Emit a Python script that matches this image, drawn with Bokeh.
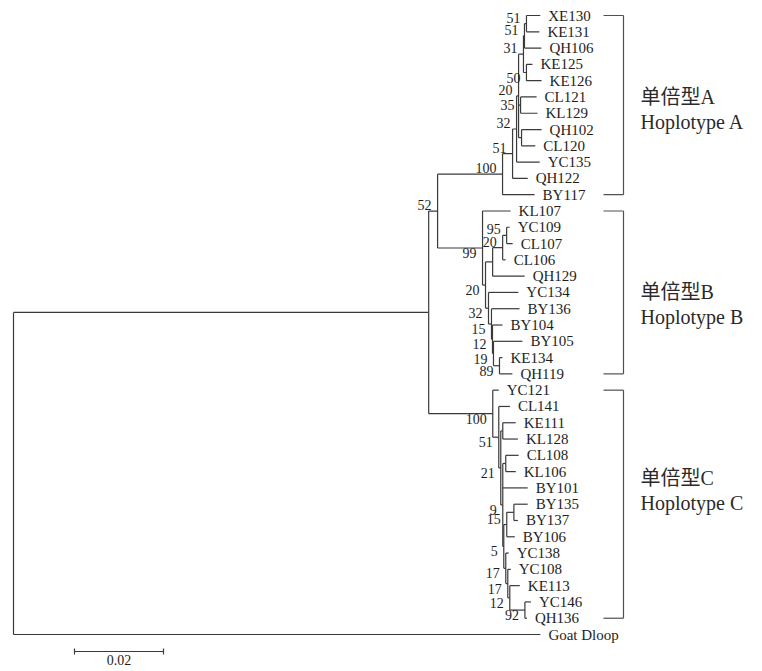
from bokeh.plotting import figure
from bokeh.models import Range1d, ColumnDataSource
from bokeh.embed import file_html
from bokeh.resources import INLINE
from bokeh.core.properties import value

# ---------------- data ----------------
leaf_names = ["XE130", "KE131", "QH106", "KE125", "KE126", "CL121", "KL129", "QH102", "CL120", "YC135", "QH122", "BY117",
              "KL107", "YC109", "CL107", "CL106", "QH129", "YC134", "BY136", "BY104", "BY105", "KE134", "QH119",
              "YC121", "CL141", "KE111", "KL128", "CL108", "KL106", "BY101", "BY135", "BY137", "BY106", "YC138",
              "YC108", "KE113", "YC146", "QH136",
              "Goat Dloop"]
leaf_parent = ["nX", "nX", "nKQ", "nKE", "nKE", "aCK", "aCK", "aQC", "aQC", "a2", "a1", "A",
               "B", "b95", "b95", "b20", "b1", "b2", "b3", "b4", "b5", "b6", "b6",
               "C", "c1", "cKE", "cKE", "cCK", "cCK", "c3", "cBB", "cBB", "cB3", "cY38",
               "cY8", "cK", "cYQ", "cYQ",
               "root"]
leaf_length = [0.0031, 0.0029, 0.0038, 0.00135, 0.0034, 0.0036, 0.0038, 0.0045, 0.0031, 0.0052, 0.0034, 0.0072,
               0.0063, 0.00067, 0.00135, 0.00067, 0.0072, 0.0067, 0.0063, 0.00225, 0.0065, 0.00067, 0.0029,
               0.00135, 0.0025, 0.0029, 0.0034, 0.0029, 0.00225, 0.0056, 0.0031, 0.0009, 0.0018, 0.00067,
               0.00067, 0.00225, 0.00135, 0.00045,
               0.1184]

node_names = ["root", "I", "AB", "A", "a1", "a2", "a3", "aTop", "nKQ", "nX", "nKE", "aCK", "aQC",
              "B", "bX", "b1", "b20", "b95", "b2", "b3", "b4", "b5", "b6",
              "C", "c1", "c2", "cKE", "c3", "cCK", "cLow", "cB3", "cBB", "cY38", "cY8", "cK", "cYQ"]
node_parent = ["", "root", "I", "AB", "A", "a1", "a2", "a3", "aTop", "nKQ", "aTop", "a3", "a3",
               "AB", "B", "bX", "b1", "b20", "bX", "b2", "b3", "b4", "b5",
               "I", "C", "c1", "c2", "c2", "c3", "c3", "cLow", "cB3", "cLow", "cY38", "cY8", "cK"]
node_length = [0.0, 0.0933, 0.0020, 0.0146, 0.00225, 0.0009, 0.00045, 0.0011, 0.000225, 0.00045, 0.00067, 0.00045, 0.00067,
               0.0101, 0.00067, 0.0016, 0.00225, 0.0009, 0.00067, 0.00067, 0.000225, 0.000225, 0.00135,
               0.0144, 0.00135, 0.00045, 0.00045, 0.00045, 0.00067, 0.000225, 0.00067, 0.0016,
               0.00045, 0.00045, 0.00045, 0.0034]
node_support = ["", "", "52", "100", "51", "32", "20", "31", "51", "51", "50", "35", "",
                "99", "20", "", "20", "95", "32", "15", "12", "19", "89",
                "100", "51", "21", "", "9", "", "5", "15", "", "17", "17", "12", "92"]

group_cn = ["单倍型A", "单倍型B", "单倍型C"]
group_en = ["Hoplotype A", "Hoplotype B", "Hoplotype C"]
group_first = ["XE130", "KL107", "YC121"]
group_last = ["BY117", "QH119", "QH136"]

scale_length = 0.02
scale_label = "0.02"

# ---------------- layout constants ----------------
W, H = 762, 671
PX_PER_UNIT = 4450.0
ROW_PX = 16.29
x_start = -13 / PX_PER_UNIT
y_top = -15 / ROW_PX
bracket_tick_x = 590 / PX_PER_UNIT
bracket_x = 610 / PX_PER_UNIT
group_text_x = 627 / PX_PER_UNIT
group_label_rows = [5.0, 17.0, 28.4]
scale_x0 = 61 / PX_PER_UNIT
scale_row = 636 / ROW_PX
LABEL_ABOVE_PX = -6   # support value of an upper child sits above its branch
LABEL_BELOW_PX = 5    # support value of a lower child sits below its branch

LINE = "#3a3a3a"
TEXT = "#1e1e1e"
SERIF = "Liberation Serif"

# ---------------- tree layout ----------------
parent_of = {}
length_of = {}
for n, pa, ln in zip(node_names, node_parent, node_length):
    parent_of[n] = pa
    length_of[n] = ln
children = {n: [] for n in node_names}
for n, pa in zip(node_names, node_parent):
    if pa:
        children[pa].append(("node", n))
leaf_y = {}
for i, (n, pa) in enumerate(zip(leaf_names, leaf_parent)):
    children[pa].append(("leaf", n))
    leaf_y[n] = float(i)

node_x = {}


def get_x(n):
    if n in node_x:
        return node_x[n]
    pa = parent_of[n]
    node_x[n] = (get_x(pa) if pa else 0.0) + length_of[n]
    return node_x[n]


node_y = {}


def get_y(n):
    if n in node_y:
        return node_y[n]
    ys = [leaf_y[c] if kind == "leaf" else get_y(c) for kind, c in children[n]]
    node_y[n] = (min(ys) + max(ys)) / 2.0
    return node_y[n]


for n in node_names:
    get_x(n)
    get_y(n)


def child_y(kind, c):
    return leaf_y[c] if kind == "leaf" else node_y[c]


hx0, hx1, hy = [], [], []
vx, vy0, vy1 = [], [], []
for n in node_names:
    if parent_of[n]:
        hx0.append(node_x[parent_of[n]]); hx1.append(node_x[n]); hy.append(node_y[n])
    ys = [child_y(k, c) for k, c in children[n]]
    vx.append(node_x[n]); vy0.append(min(ys)); vy1.append(max(ys))

tip_x = []
for n, pa, ln in zip(leaf_names, leaf_parent, leaf_length):
    tx = node_x[pa] + ln
    tip_x.append(tx)
    hx0.append(node_x[pa]); hx1.append(tx); hy.append(leaf_y[n])

# support labels: above the branch for an upper child, below it for a lower child
bx, by, bt, boff = [], [], [], []
for n, s in zip(node_names, node_support):
    if not s:
        continue
    sib = [child_y(k, c) for k, c in children[parent_of[n]]]
    if node_y[n] <= min(sib):
        off = LABEL_ABOVE_PX
    elif node_y[n] >= max(sib):
        off = LABEL_BELOW_PX
    else:
        off = 0
    bx.append(node_x[n]); by.append(node_y[n]); bt.append(s); boff.append(off)

# ---------------- figure ----------------
p = figure(width=W, height=H, output_backend="svg", toolbar_location=None,
           x_range=Range1d(x_start, x_start + W / PX_PER_UNIT),
           y_range=Range1d(y_top + H / ROW_PX, y_top),
           x_axis_location=None, y_axis_location=None, min_border=0)
p.xgrid.grid_line_color = None
p.ygrid.grid_line_color = None
p.outline_line_color = None
p.background_fill_color = "white"

p.segment(x0=hx0, y0=hy, x1=hx1, y1=hy, line_color=LINE, line_width=1.2)
p.segment(x0=vx, y0=vy0, x1=vx, y1=vy1, line_color=LINE, line_width=1.2)

leaf_src = ColumnDataSource(dict(x=tip_x, y=[leaf_y[n] for n in leaf_names], t=leaf_names))
p.text(x="x", y="y", text="t", source=leaf_src, x_offset=8, text_baseline="middle", text_align="left",
       text_font=value(SERIF), text_font_size="15px", text_color=TEXT)

bs_src = ColumnDataSource(dict(x=bx, y=by, t=bt, off=boff))
p.text(x="x", y="y", text="t", source=bs_src, x_offset=-6, y_offset="off", text_baseline="middle",
       text_align="right", text_font=value(SERIF), text_font_size="14px", text_color=TEXT)

# clade brackets and labels
for i in range(3):
    y0 = leaf_y[group_first[i]]
    y1 = leaf_y[group_last[i]]
    p.segment(x0=[bracket_x, bracket_tick_x, bracket_tick_x], y0=[y0, y0, y1],
              x1=[bracket_x, bracket_x, bracket_x], y1=[y1, y0, y1], line_color="#505050", line_width=1.2)
    r = group_label_rows[i]
    p.text(x=[group_text_x], y=[r], text=[group_cn[i]], text_baseline="middle", text_align="left",
           text_font=value("'Liberation Serif', 'Noto Sans CJK SC'"), text_font_size="20px", text_color="#2a2a2a")
    p.text(x=[group_text_x], y=[r], text=[group_en[i]], y_offset=25, text_baseline="middle", text_align="left",
           text_font=value(SERIF), text_font_size="20px", text_color="#2a2a2a")

# scale bar
sx1 = scale_x0 + scale_length
p.segment(x0=[scale_x0, scale_x0, sx1], y0=[scale_row, scale_row - 0.18, scale_row - 0.18],
          x1=[sx1, scale_x0, sx1], y1=[scale_row, scale_row + 0.18, scale_row + 0.18],
          line_color=LINE, line_width=1.2)
p.text(x=[(scale_x0 + sx1) / 2], y=[scale_row], text=[scale_label], y_offset=3, text_baseline="top",
       text_align="center", text_font=value(SERIF), text_font_size="14px", text_color=TEXT)

open("out.html", "w").write(file_html(p, INLINE))
